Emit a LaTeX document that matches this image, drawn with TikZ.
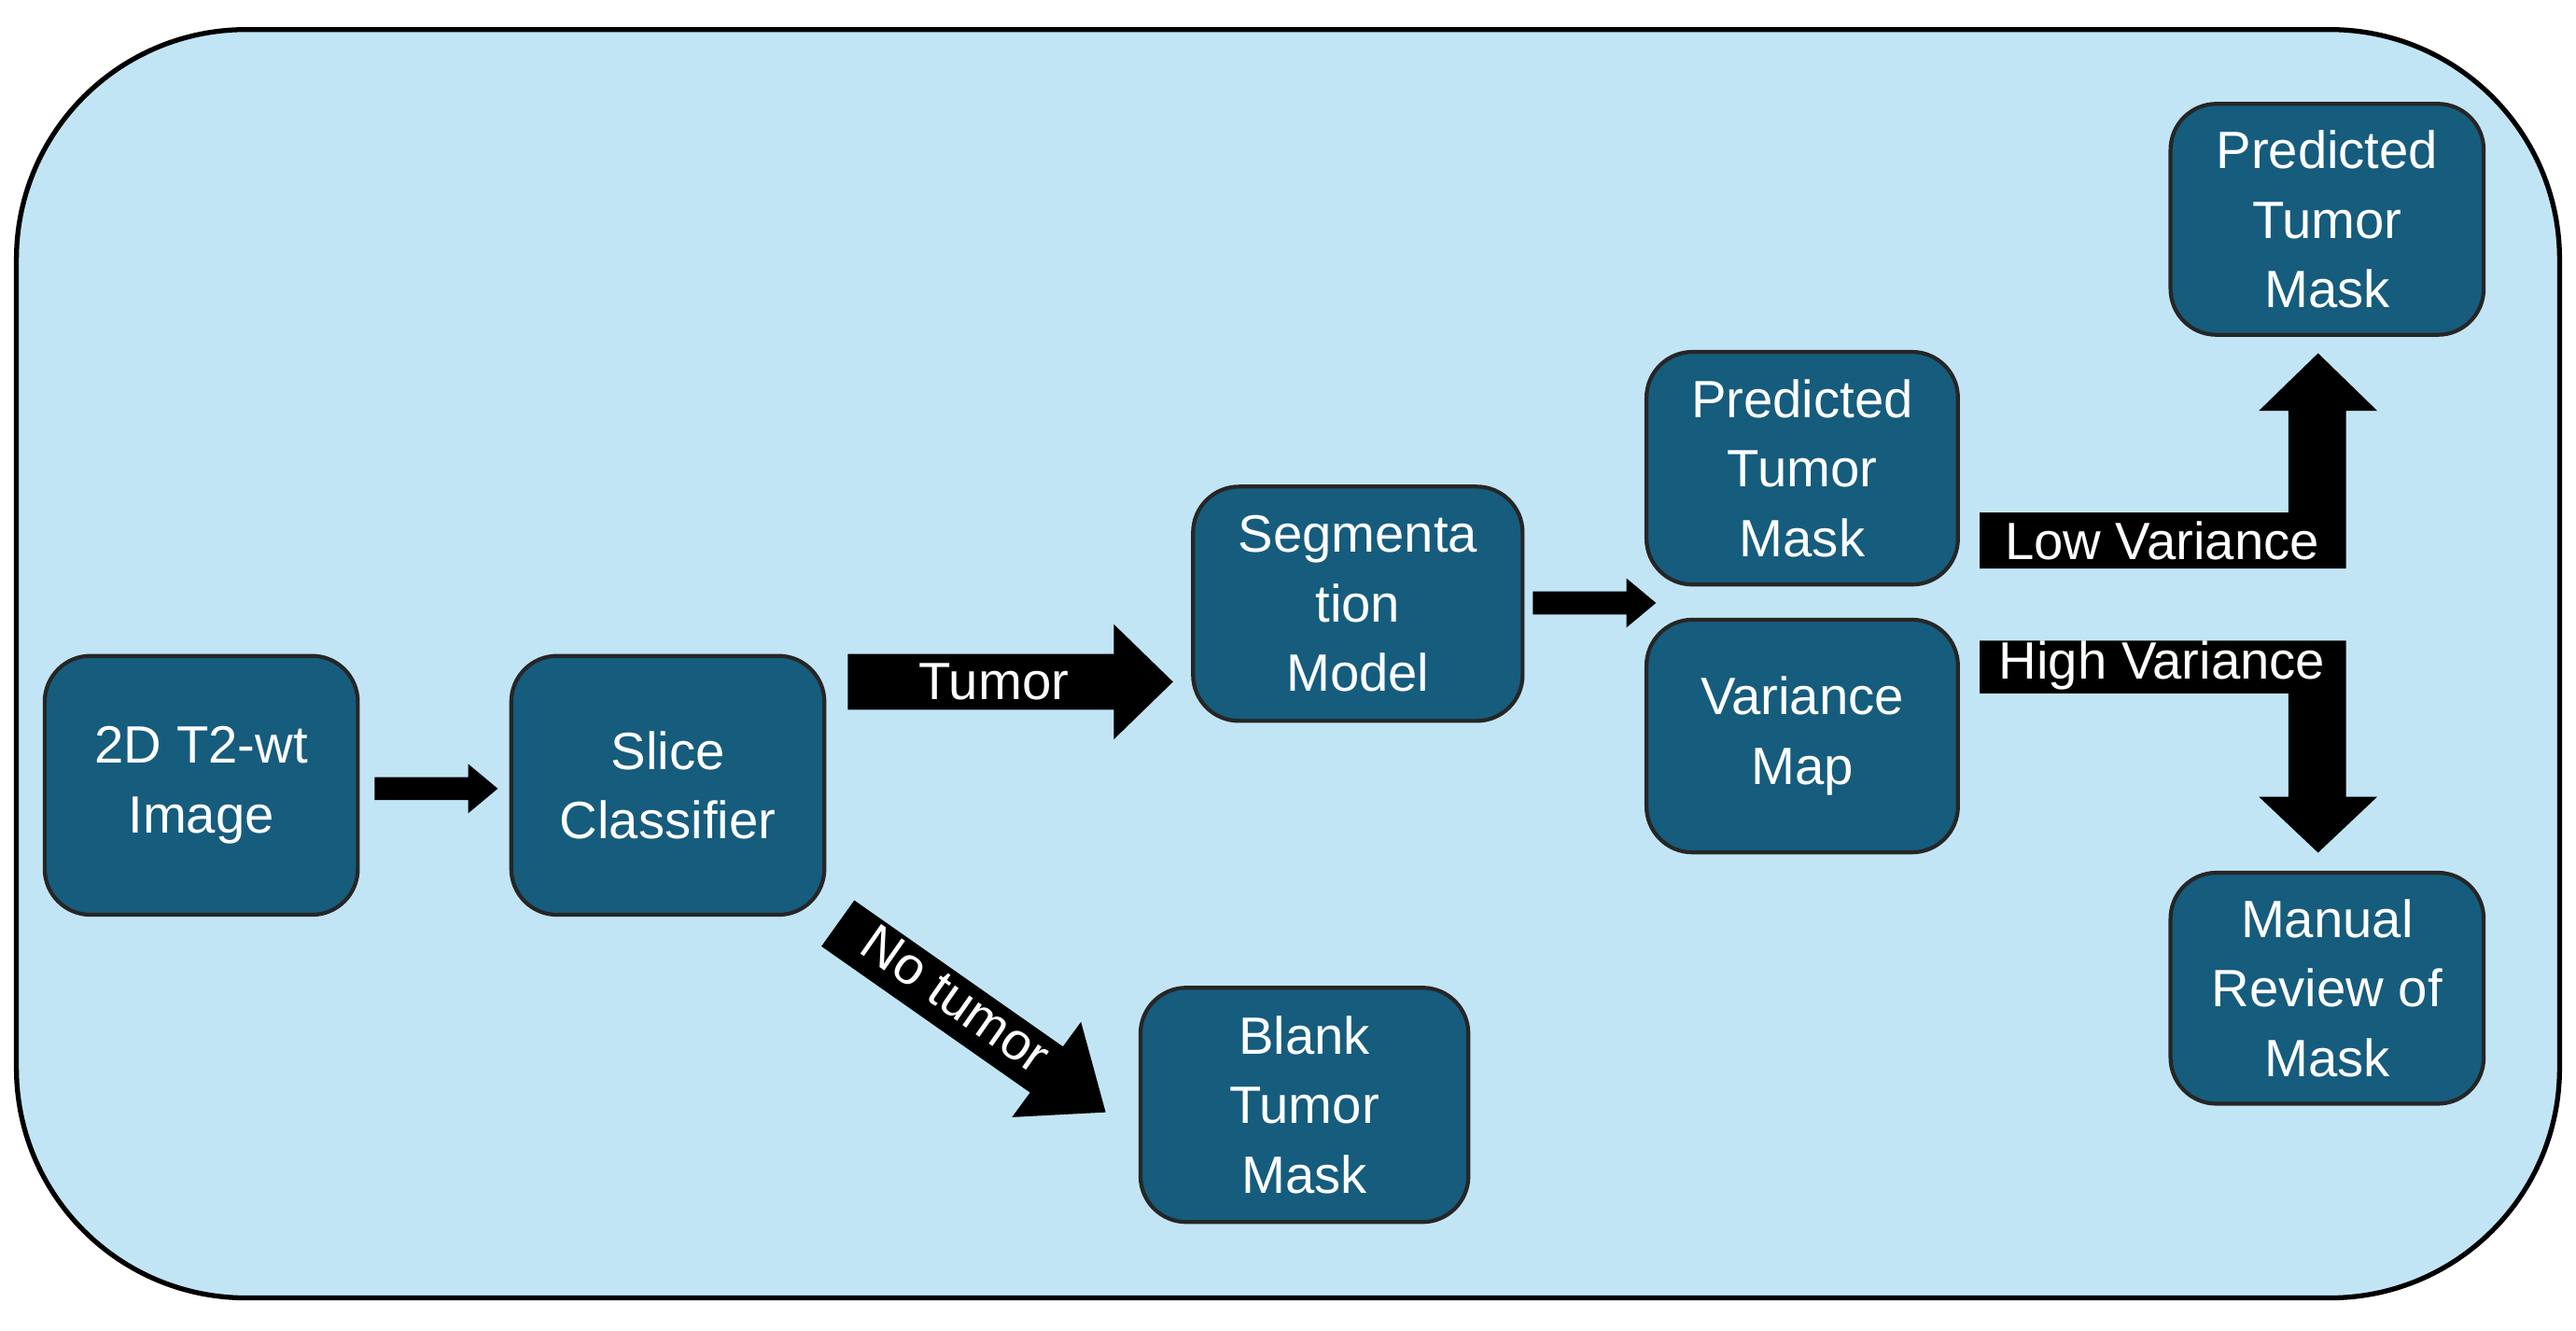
\documentclass[tikz,border=0pt]{standalone}
\usepackage{fontspec}
\setmainfont{Liberation Sans}
\begin{document}
\begin{tikzpicture}[x=0.0176cm,y=-0.0176cm,
  box/.style={draw=black!85,line width=1.2pt,fill=boxc,rounded corners=14pt,text=white,align=center,font=\fontsize{16}{21.2}\selectfont,inner sep=0pt},
  lab/.style={text=white,font=\fontsize{16}{18}\selectfont,inner sep=0pt}]
\definecolor{bgc}{HTML}{C2E5F5}
\definecolor{boxc}{HTML}{165C7D}
\useasboundingbox (0,0) rectangle (1568,810);
\draw[line width=1.5pt,fill=bgc,rounded corners=70pt] (10,18) rectangle (1558,790);
\newcommand{\bx}[6]{\node[box,minimum width=#4*0.0176cm-1.2pt,minimum height=#5*0.0176cm-1.2pt] (#1) at (#2,#3) {#6};}
\bx{img}{122.5}{478}{193}{160}{2D T2-wt\\Image}
\bx{cls}{406.5}{478}{193}{160}{Slice\\Classifier}
\bx{seg}{826.5}{367.5}{203}{145}{Segmenta\\tion\\Model}
\bx{pm}{1097}{285}{192}{144}{Predicted\\Tumor\\Mask}
\bx{vm}{1097}{448}{192}{144}{Variance\\Map}
\bx{pt}{1416.5}{133.5}{193}{143}{Predicted\\Tumor\\Mask}
\bx{mr}{1416.5}{601.5}{193}{143}{Manual\\Review of\\Mask}
\bx{bl}{794}{672.5}{202}{145}{Blank\\Tumor\\Mask}
% small arrows
\fill (228,473) -- (285,473) -- (285,465) -- (303,480) -- (285,495) -- (285,487) -- (228,487) -- cycle;
\fill (933,360) -- (990,360) -- (990,352) -- (1008,367) -- (990,382) -- (990,374) -- (933,374) -- cycle;
% tumor
\fill (516,398) -- (678,398) -- (678,380) -- (714,415) -- (678,450) -- (678,432) -- (516,432) -- cycle;
\node[lab] (tl) at (605,415) {Tumor};
% low variance
\fill (1205,312) -- (1393,312) -- (1393,250) -- (1375,250) -- (1411,215) -- (1447,250) -- (1428,250) -- (1428,346) -- (1205,346) -- cycle;
\node[lab] (lv) at (1316,329) {Low Variance};
% high variance
\fill (1205,390) -- (1428,390) -- (1428,485) -- (1447,485) -- (1411,519) -- (1375,485) -- (1393,485) -- (1393,422) -- (1205,422) -- cycle;
\node[lab] (hv) at (1316,405) {High Variance};
% no tumor
\fill (500,576) -- (627,665) -- (616,680) -- (673,677) -- (658,622) -- (647,637) -- (520,548) -- cycle;
\node[lab,rotate=-35] (nt) at (582,608) {No tumor};
\end{tikzpicture}
\end{document}
